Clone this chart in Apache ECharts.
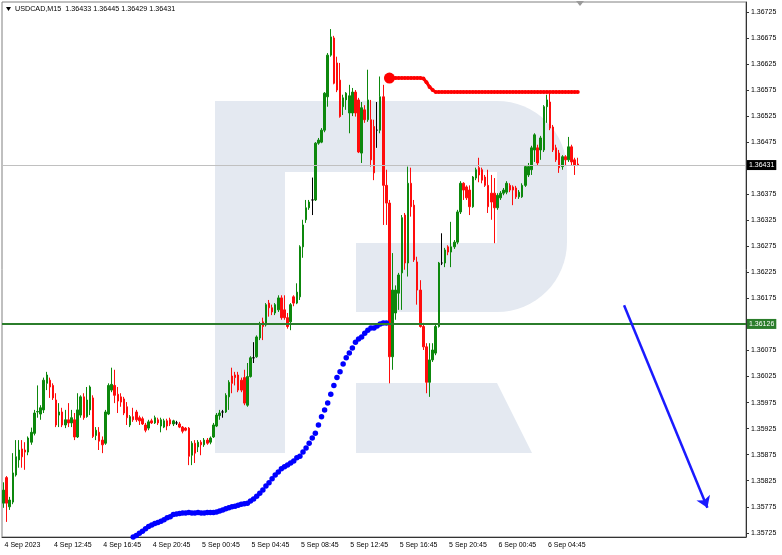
<!DOCTYPE html>
<html><head><meta charset="utf-8">
<script src="https://cdn.jsdelivr.net/npm/echarts@6/dist/echarts.min.js"></script>
<style>html,body{margin:0;padding:0;background:#fff}#c{width:782px;height:555px}</style>
</head><body><div id="c"></div>
<script>
const symbolName = 'USDCAD,M15';
const ohlcHeader = [1.36433, 1.36445, 1.36429, 1.36431];
const barCount = 241;
const tickLabels = ["4 Sep 2023","4 Sep 12:45","4 Sep 16:45","4 Sep 20:45","5 Sep 00:45","5 Sep 04:45","5 Sep 08:45","5 Sep 12:45","5 Sep 16:45","5 Sep 20:45","6 Sep 00:45","6 Sep 04:45"];
const yTicks = [1.35725,1.35775,1.35825,1.35875,1.35925,1.35975,1.36025,1.36075,1.36125,1.36175,1.36225,1.36275,1.36325,1.36375,1.36425,1.36475,1.36525,1.36575,1.36625,1.36675,1.36725];
const yMin = 1.35717, yMax = 1.36744;
// [open, close, low, high]
const candles = [
[1.35782,1.35807,1.35773,1.35822],[1.35831,1.35782,1.35746,1.35834],[1.35775,1.35788,1.35769,1.35794],[1.35784,1.35840,1.35780,1.35878],
[1.35836,1.35871,1.35833,1.35903],[1.35865,1.35884,1.35850,1.35903],[1.35886,1.35871,1.35850,1.35903],[1.35884,1.35880,1.35846,1.35899],
[1.35880,1.35907,1.35874,1.35910],[1.35899,1.35918,1.35894,1.35927],[1.35916,1.35955,1.35912,1.35961],[1.35957,1.35958,1.35946,1.36008],
[1.35953,1.35965,1.35942,1.35970],[1.35961,1.36018,1.35955,1.36023],[1.36012,1.36028,1.35999,1.36034],[1.36018,1.36005,1.35984,1.36023],
[1.36008,1.35984,1.35980,1.36012],[1.35980,1.35932,1.35928,1.35993],[1.35951,1.35957,1.35928,1.35974],[1.35957,1.35932,1.35928,1.35965],
[1.35932,1.35942,1.35926,1.35961],[1.35942,1.35936,1.35928,1.35974],[1.35936,1.35946,1.35928,1.35961],[1.35942,1.35909,1.35903,1.35955],
[1.35909,1.35961,1.35907,1.35993],[1.35951,1.35986,1.35946,1.35989],[1.35986,1.35946,1.35942,1.35993],[1.35948,1.35980,1.35946,1.36005],
[1.35961,1.36005,1.35951,1.36008],[1.35984,1.35910,1.35907,1.35989],[1.35912,1.35922,1.35903,1.35928],[1.35918,1.35901,1.35884,1.35928],
[1.35903,1.35894,1.35878,1.35910],[1.35897,1.35957,1.35894,1.35961],[1.35953,1.36008,1.35951,1.36012],[1.35999,1.36010,1.35995,1.36042],
[1.36008,1.35989,1.35974,1.36038],[1.35991,1.35978,1.35955,1.36005],[1.35986,1.35976,1.35967,1.35993],[1.35982,1.35955,1.35951,1.35986],
[1.35967,1.35946,1.35932,1.35976],[1.35932,1.35948,1.35928,1.35951],[1.35948,1.35942,1.35938,1.35965],[1.35957,1.35942,1.35938,1.35961],
[1.35946,1.35940,1.35932,1.35950],[1.35944,1.35934,1.35932,1.35948],[1.35932,1.35922,1.35918,1.35936],[1.35926,1.35938,1.35922,1.35942],
[1.35940,1.35936,1.35934,1.35944],[1.35936,1.35946,1.35934,1.35950],[1.35942,1.35936,1.35932,1.35946],[1.35930,1.35942,1.35918,1.35946],
[1.35928,1.35940,1.35926,1.35944],[1.35940,1.35930,1.35922,1.35944],[1.35942,1.35934,1.35930,1.35946],[1.35934,1.35940,1.35930,1.35942],
[1.35936,1.35936,1.35932,1.35940],[1.35934,1.35928,1.35926,1.35938],[1.35928,1.35920,1.35916,1.35930],[1.35926,1.35922,1.35920,1.35928],
[1.35926,1.35872,1.35855,1.35928],[1.35874,1.35897,1.35855,1.35901],[1.35897,1.35878,1.35859,1.35903],[1.35890,1.35899,1.35880,1.35903],
[1.35899,1.35894,1.35874,1.35903],[1.35894,1.35903,1.35890,1.35907],[1.35903,1.35897,1.35894,1.35907],[1.35899,1.35907,1.35895,1.35910],
[1.35909,1.35932,1.35907,1.35936],[1.35930,1.35951,1.35928,1.35955],[1.35950,1.35955,1.35942,1.35961],[1.35957,1.35957,1.35946,1.35961],
[1.35957,1.35989,1.35955,1.35993],[1.35986,1.36014,1.35961,1.36018],[1.36026,1.36012,1.35993,1.36042],[1.36028,1.36023,1.36008,1.36034],
[1.36028,1.35999,1.35995,1.36034],[1.36018,1.35999,1.35995,1.36023],[1.36023,1.35974,1.35970,1.36038],[1.35970,1.36025,1.35967,1.36051],
[1.36025,1.36061,1.36023,1.36064],[1.36061,1.36061,1.36051,1.36091],[1.36063,1.36101,1.36061,1.36104],[1.36099,1.36124,1.36095,1.36130],
[1.36130,1.36121,1.36095,1.36138],[1.36124,1.36163,1.36121,1.36166],[1.36166,1.36157,1.36140,1.36172],[1.36157,1.36149,1.36143,1.36163],
[1.36147,1.36163,1.36143,1.36166],[1.36153,1.36176,1.36149,1.36181],[1.36176,1.36138,1.36134,1.36181],[1.36153,1.36138,1.36134,1.36181],
[1.36138,1.36121,1.36117,1.36147],[1.36130,1.36163,1.36114,1.36166],[1.36178,1.36166,1.36160,1.36181],[1.36166,1.36187,1.36164,1.36204],
[1.36178,1.36274,1.36172,1.36277],[1.36274,1.36316,1.36253,1.36326],[1.36326,1.36349,1.36320,1.36364],[1.36349,1.36360,1.36345,1.36364],
[1.36364,1.36364,1.36335,1.36407],[1.36364,1.36473,1.36362,1.36475],[1.36473,1.36479,1.36470,1.36483],[1.36475,1.36498,1.36473,1.36502],
[1.36498,1.36569,1.36494,1.36571],[1.36562,1.36642,1.36543,1.36646],[1.36642,1.36677,1.36639,1.36692],[1.36675,1.36588,1.36586,1.36679],
[1.36627,1.36575,1.36571,1.36639],[1.36594,1.36524,1.36522,1.36627],[1.36543,1.36560,1.36527,1.36566],[1.36556,1.36569,1.36537,1.36571],
[1.36531,1.36564,1.36492,1.36585],[1.36531,1.36571,1.36525,1.36579],[1.36571,1.36531,1.36524,1.36575],[1.36556,1.36456,1.36454,1.36560],
[1.36454,1.36541,1.36435,1.36552],[1.36537,1.36518,1.36512,1.36546],[1.36518,1.36556,1.36514,1.36614],[1.36518,1.36441,1.36428,1.36556],
[1.36505,1.36416,1.36402,1.36518],[1.36498,1.36498,1.36464,1.36552],[1.36498,1.36562,1.36492,1.36601],[1.36562,1.36392,1.36316,1.36585],
[1.36392,1.36358,1.36316,1.36422],[1.36358,1.36063,1.36012,1.36364],[1.36063,1.36191,1.36038,1.36262],[1.36147,1.36191,1.36134,1.36200],
[1.36185,1.36220,1.36153,1.36224],[1.36224,1.36330,1.36153,1.36335],[1.36335,1.36243,1.36230,1.36339],[1.36243,1.36396,1.36217,1.36428],
[1.36396,1.36351,1.36332,1.36426],[1.36354,1.36249,1.36245,1.36364],[1.36245,1.36191,1.36163,1.36255],[1.36191,1.36121,1.36119,1.36210],
[1.36121,1.36082,1.36076,1.36128],[1.36082,1.36014,1.35993,1.36089],[1.36014,1.36057,1.35986,1.36089],[1.36057,1.36076,1.36053,1.36089],
[1.36070,1.36121,1.36066,1.36124],[1.36121,1.36243,1.36119,1.36245],[1.36243,1.36243,1.36239,1.36300],[1.36243,1.36268,1.36235,1.36272],
[1.36274,1.36264,1.36258,1.36277],[1.36264,1.36274,1.36235,1.36322],[1.36274,1.36283,1.36270,1.36287],[1.36283,1.36341,1.36279,1.36345],
[1.36341,1.36396,1.36337,1.36400],[1.36396,1.36383,1.36364,1.36398],[1.36389,1.36368,1.36364,1.36392],[1.36383,1.36351,1.36335,1.36392],
[1.36351,1.36408,1.36349,1.36410],[1.36406,1.36422,1.36402,1.36426],[1.36426,1.36412,1.36398,1.36445],[1.36422,1.36402,1.36396,1.36426],
[1.36408,1.36392,1.36389,1.36412],[1.36392,1.36351,1.36339,1.36422],[1.36377,1.36360,1.36326,1.36412],[1.36377,1.36349,1.36281,1.36406],
[1.36349,1.36373,1.36345,1.36377],[1.36368,1.36377,1.36364,1.36381],[1.36377,1.36383,1.36373,1.36387],[1.36379,1.36396,1.36375,1.36400],
[1.36392,1.36383,1.36379,1.36396],[1.36389,1.36383,1.36354,1.36392],[1.36387,1.36370,1.36366,1.36391],[1.36370,1.36379,1.36366,1.36383],
[1.36370,1.36392,1.36368,1.36396],[1.36392,1.36428,1.36389,1.36431],[1.36412,1.36428,1.36408,1.36435],[1.36422,1.36464,1.36412,1.36468],
[1.36460,1.36489,1.36437,1.36492],[1.36464,1.36435,1.36431,1.36470],[1.36460,1.36483,1.36441,1.36487],[1.36460,1.36543,1.36456,1.36546],
[1.36543,1.36556,1.36512,1.36566],[1.36552,1.36502,1.36498,1.36569],[1.36504,1.36460,1.36456,1.36508],[1.36464,1.36441,1.36437,1.36470],
[1.36454,1.36426,1.36416,1.36460],[1.36428,1.36447,1.36422,1.36450],[1.36447,1.36441,1.36431,1.36450],[1.36441,1.36466,1.36437,1.36485],
[1.36466,1.36437,1.36431,1.36470],[1.36441,1.36431,1.36412,1.36445],[1.36433,1.36431,1.36429,1.36445]
];
const resistanceStart = 125;
const resistance = [1.36598,1.36598,1.36598,1.36598,1.36598,1.36598,1.36598,1.36598,1.36598,1.36598,1.36598,
1.36597,1.36590,1.36581,1.36575,
1.36571,1.36571,1.36571,1.36571,1.36571,1.36571,1.36571,1.36571,1.36571,1.36571,1.36571,1.36571,1.36571,1.36571,1.36571,1.36571,
1.36571,1.36571,1.36571,1.36571,1.36571,1.36571,1.36571,1.36571,1.36571,1.36571,1.36571,1.36571,1.36571,1.36571,1.36571,1.36571,
1.36571,1.36571,1.36571,1.36571,1.36571,1.36571,1.36571,1.36571,1.36571,1.36571,1.36571,1.36571,1.36571,1.36571,1.36571];
const trendStart = 42;
const trendDots = [1.35717,1.35720,1.35724,1.35728,1.35733,1.35737,1.35740,1.35743,1.35745,1.35747,
1.35750,1.35754,1.35756,1.35760,1.35761,1.35762,
1.35763,1.35763,1.35764,1.35763,1.35763,1.35764,1.35763,1.35763,1.35764,1.35764,
1.35764,1.35765,1.35767,1.35769,1.35771,1.35773,1.35775,1.35776,1.35778,1.35780,1.35781,1.35782,
1.35786,1.35790,1.35795,1.35801,1.35807,1.35815,1.35821,1.35829,1.35836,1.35842,1.35848,1.35852,
1.35855,1.35859,1.35863,1.35869,1.35872,1.35880,1.35888,1.35897,1.35907,1.35916,1.35932,1.35948,
1.35961,1.35974,1.35991,1.36008,1.36023,1.36034,1.36049,1.36061,1.36070,1.36080,1.36091,1.36097,
1.36101,1.36108,1.36114,1.36118,1.36118,1.36122,1.36126,1.36128,1.36128];
const supportLevel = 1.36126;
const lastPrice = 1.36431;
const arrowFrom = [201, 1.36162];
const arrowTo = [228, 1.35773];

// category axis: 15-minute bars starting 4 Sep 2023 08:45
const t0 = Date.UTC(2023, 8, 4, 8, 45);
const categories = [];
for (let i = 0; i < barCount; i++) {
  const d = new Date(t0 + i * 15 * 60000);
  categories.push(d.toISOString().slice(0, 16).replace('T', ' '));
}
const tickMap = {};
tickLabels.forEach((l, k) => { tickMap[categories[k * 16]] = l; });
const showTick = (idx) => idx % 16 === 0 && (idx / 16) < tickLabels.length;

const FONT = 'Liberation Sans';
const chart = echarts.init(document.getElementById('c'), null, {renderer: 'canvas'});
const logoColor = '#e4e9f1';
const priceLabel = (val, bg) => ({show: true, position: 'end', distance: 1, formatter: () => val.toFixed(5), backgroundColor: bg, color: '#fff', fontSize: 7, fontFamily: FONT, padding: [2, 2, 1, 2]});
chart.setOption({
  animation: false,
  backgroundColor: '#ffffff',
  grid: {left: 2, right: 36, top: 2, bottom: 18, show: true, borderColor: '#808080', borderWidth: 1, backgroundColor: 'transparent'},
  graphic: [
    {type: 'rect', z: -10, silent: true, shape: {x: 215, y: 101, width: 70, height: 352}, style: {fill: logoColor}},
    {type: 'rect', z: -10, silent: true, shape: {x: 284, y: 101, width: 214, height: 71}, style: {fill: logoColor}},
    {type: 'rect', z: -10, silent: true, shape: {x: 497, y: 101, width: 70, height: 211, r: [0, 70, 70, 0]}, style: {fill: logoColor}},
    {type: 'rect', z: -10, silent: true, shape: {x: 356, y: 243, width: 142, height: 69}, style: {fill: logoColor}},
    {type: 'polygon', z: -10, silent: true, shape: {points: [[356, 383], [497, 383], [532, 453], [356, 453]]}, style: {fill: logoColor}},
    {type: 'polygon', silent: true, shape: {points: [[6, 7], [11, 7], [8.5, 11]]}, style: {fill: '#000'}},
    {type: 'polygon', silent: true, shape: {points: [[576, 1], [584, 1], [580, 6]]}, style: {fill: '#9a9a9a'}},
    {type: 'text', silent: true, x: 15, y: 9, style: {text: symbolName + '  ' + ohlcHeader.map(v => v.toFixed(5)).join(' '), font: '7.2px "' + FONT + '"', fill: '#000', verticalAlign: 'middle'}}
  ],
  xAxis: {
    type: 'category', data: categories, boundaryGap: true,
    axisLine: {lineStyle: {color: '#333', width: 1}},
    axisTick: {alignWithLabel: true, length: 3, interval: (idx) => showTick(idx), lineStyle: {color: '#333'}},
    axisLabel: {interval: (idx) => showTick(idx), formatter: (v) => tickMap[v] || '', fontSize: 7, fontFamily: FONT, color: '#000', align: 'left', margin: 5, padding: [0, 0, 0, 1]},
    splitLine: {show: false}
  },
  yAxis: {
    type: 'value', position: 'right', min: yMin, max: yMax, scale: true,
    axisLine: {show: true, lineStyle: {color: '#333', width: 1}},
    axisTick: {show: true, length: 3, customValues: yTicks, lineStyle: {color: '#333'}},
    axisLabel: {customValues: yTicks, formatter: (v) => v.toFixed(5), fontSize: 7, fontFamily: FONT, color: '#000', margin: 5},
    splitLine: {show: false}
  },
  series: [
    {
      type: 'line', z: 1, data: [], silent: true,
      markLine: {
        silent: true, symbol: 'none', animation: false, precision: 5,
        data: [
          {yAxis: lastPrice, lineStyle: {color: '#c0c0c0', width: 1, type: 'solid'}, label: priceLabel(lastPrice, '#000')},
          {yAxis: supportLevel, lineStyle: {color: '#2b7d2b', width: 2, type: 'solid'}, label: priceLabel(supportLevel, '#2b7d2b')}
        ]
      }
    },
    {
      type: 'candlestick', data: candles, barWidth: 2, z: 3,
      itemStyle: {color: '#0d880d', color0: '#ff0c0c', borderColor: '#0d880d', borderColor0: '#ff0c0c', borderColorDoji: '#000', borderWidth: 1},
      emphasis: {disabled: true}
    },
    {
      type: 'line', z: 4, data: trendDots.map((v, k) => [trendStart + k, v]),
      symbol: 'circle', symbolSize: 5.5, showAllSymbol: true,
      lineStyle: {width: 0, opacity: 0}, itemStyle: {color: '#0000ff'},
      emphasis: {disabled: true},
      markLine: {
        silent: true, symbol: ['none', 'arrow'], symbolSize: 11, animation: false, precision: 5,
        lineStyle: {color: '#1a1aff', width: 2.5, type: 'solid'}, label: {show: false},
        data: [[{coord: arrowFrom}, {coord: arrowTo}]]
      }
    },
    {
      type: 'line', z: 4, data: resistance.map((v, k) => [resistanceStart + k, v]),
      symbol: 'circle', symbolSize: (v, p) => p.dataIndex === 0 ? 11 : 4, showAllSymbol: true,
      lineStyle: {width: 3, color: '#ff0000'}, itemStyle: {color: '#ff0000'},
      emphasis: {disabled: true}
    }
  ]
});
</script></body></html>
